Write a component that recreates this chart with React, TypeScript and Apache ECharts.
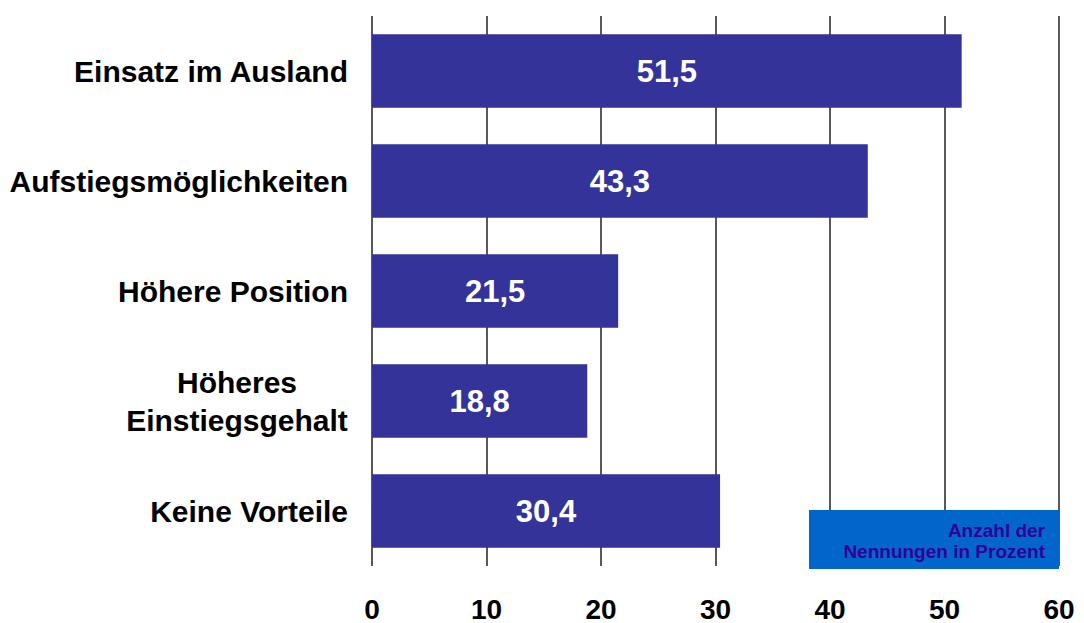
import React, { useEffect, useRef } from "react";
import * as echarts from "echarts";

const categories = [
  "Einsatz im Ausland",
  "Aufstiegsmöglichkeiten",
  "Höhere Position",
  "Höheres\nEinstiegsgehalt",
  "Keine Vorteile",
];
const values = [51.5, 43.3, 21.5, 18.8, 30.4];
const tickLabels = ["0", "10", "20", "30", "40", "50", "60"];
const noteLines = ["Anzahl der", "Nennungen in Prozent"];

const FONT = "'Liberation Sans', Arial, sans-serif";

export default function App() {
  const ref = useRef<HTMLDivElement>(null);
  useEffect(() => {
    if (!ref.current) return;
    const chart = echarts.init(ref.current, null, { renderer: "svg" });
    chart.setOption({
      animation: false,
      backgroundColor: "#ffffff",
      grid: { left: 372, right: 25, top: 16, bottom: 55, containLabel: false },
      xAxis: {
        type: "value",
        min: 0,
        max: 60,
        interval: 10,
        axisLine: { show: false },
        axisTick: { show: false },
        splitLine: { show: true, lineStyle: { color: "#222222", width: 1.5 } },
        axisLabel: {
          margin: 29,
          fontFamily: FONT,
          fontWeight: "bold",
          fontSize: 28,
          color: "#000000",
          formatter: (v: number) => tickLabels[Math.round(v / 10)] ?? String(v),
        },
      },
      yAxis: {
        type: "category",
        inverse: true,
        data: categories,
        axisLine: { show: false },
        axisTick: { show: false },
        axisLabel: {
          margin: 24,
          fontFamily: FONT,
          fontWeight: "bold",
          fontSize: 30,
          color: "#000000",
          lineHeight: 38,
          formatter: (v: string) => {
            if (v.includes("\n")) {
              return v
                .split("\n")
                .map((l) => `{c|${l}}`)
                .join("\n");
            }
            return v;
          },
          rich: {
            c: {
              width: 222,
              align: "center",
              fontFamily: FONT,
              fontWeight: "bold",
              fontSize: 30,
              color: "#000000",
              lineHeight: 38,
            },
          },
        },
      },
      series: [
        {
          type: "bar",
          data: values,
          barWidth: "67%",
          itemStyle: { color: "#333399" },
          z: 3,
          label: {
            show: true,
            position: "inside",
            fontFamily: FONT,
            fontWeight: "bold",
            fontSize: 31,
            color: "#ffffff",
            formatter: (p: any) => String(p.value).replace(".", ","),
          },
        },
      ],
      graphic: [
        {
          type: "rect",
          shape: { x: 809, y: 510, width: 250, height: 59 },
          style: { fill: "#0066cc" },
          z: 10,
        },
        {
          type: "text",
          x: 1045,
          y: 530,
          z: 11,
          style: {
            text: noteLines[0],
            align: "right",
            verticalAlign: "middle",
            fontFamily: FONT,
            fontWeight: "bold",
            fontSize: 19,
            fill: "#330099",
          },
        },
        {
          type: "text",
          x: 1045,
          y: 551,
          z: 11,
          style: {
            text: noteLines[1],
            align: "right",
            verticalAlign: "middle",
            fontFamily: FONT,
            fontWeight: "bold",
            fontSize: 19,
            fill: "#330099",
          },
        },
      ],
    });
    return () => chart.dispose();
  }, []);
  return (
    <div
      ref={ref}
      style={{ position: "fixed", left: 0, top: 0, width: 1084, height: 623 }}
    />
  );
}
